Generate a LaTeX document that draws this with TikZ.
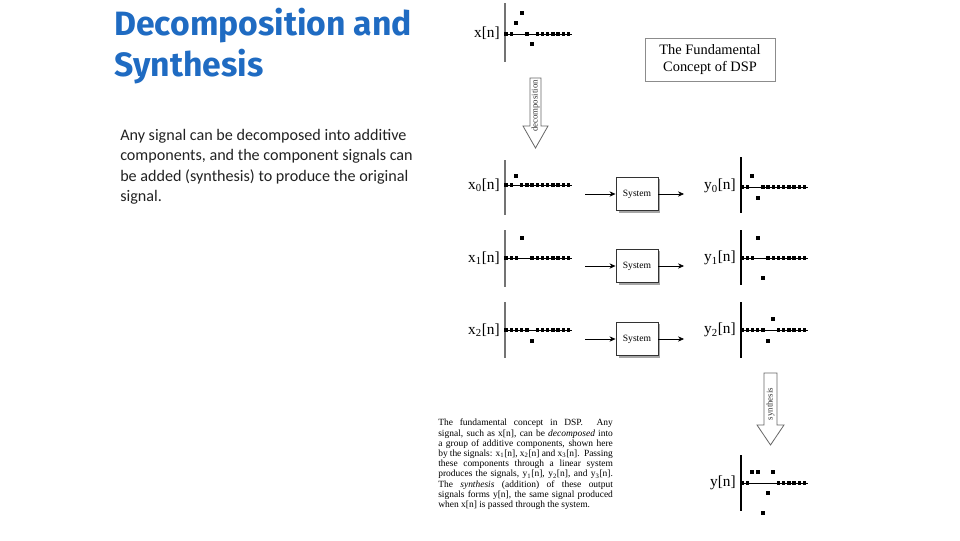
\documentclass[tikz,border=0pt]{standalone}
\usepackage{fontspec}
\setmainfont{Liberation Serif}
\newfontfamily\titlefont{Fira Sans}
\newfontfamily\bodyfont{Carlito}
\usetikzlibrary{arrows.meta}
\definecolor{titleblue}{HTML}{1F6BC2}
\definecolor{bodygray}{HTML}{222222}
\tikzset{
  axisx/.style={draw=black!55,line width=1.4pt},
  axisy/.style={draw=black,line width=0.9pt},
  hline/.style={draw=black,line width=0.5pt},
  lbl/.style={anchor=east,inner sep=0pt,font=\fontsize{11.5}{12}\selectfont},
  sysbox/.style={draw=black!80,fill=white,line width=0.7pt,minimum width=31.5pt,minimum height=24.75pt,inner sep=0pt,font=\fontsize{7.2}{8}\selectfont},
  conn/.style={draw=black,line width=0.5pt,-{Stealth[length=4.5pt,width=4pt]}},
  hollow/.style={draw=black!60,line width=0.6pt,fill=white},
}
\newcommand\sigplot[7]{%
  \draw[#5] (#1,#3) -- (#1,#4);
  \draw[hline] (#1,#2) -- ++(67,0);
  \foreach \k in {#6} {\fill ({#1+1+5.2*\k-1.7},{#2-1.7}) rectangle ++(3.4,3.4);}
  \foreach \k/\v in {#7} {\fill ({#1+1+5.2*\k-2},{#2-\v-2}) rectangle ++(4,4);}
}
\newcommand\capline[1]{\makebox[131pt][s]{#1}\par}
\begin{document}
\begin{tikzpicture}[x=0.75pt,y=-0.75pt]
\useasboundingbox (0,0) rectangle (960,540);
\fill[white] (0,0) rectangle (960,540);

% title
\node[anchor=north west,inner sep=0pt,align=left,text=titleblue,
  font=\titlefont\bfseries\fontsize{25.3}{31}\selectfont] (title) at (114,8)
  {Decomposition and\\Synthesis};

% body text
\node[anchor=north west,inner sep=0pt,align=left,text=bodygray,
  font=\bodyfont\fontsize{12.1}{15.3}\selectfont] (body) at (120,129)
  {Any signal can be decomposed into additive\\components, and the component signals can\\be added (synthesis) to produce the original\\signal.};

% fundamental concept box
\node[draw=black!45,line width=0.6pt,minimum width=97.5pt,minimum height=32.25pt,
  inner sep=0pt,align=center,font=\fontsize{10.8}{13}\selectfont] (fc) at (710,59.5)
  {The Fundamental\\Concept of DSP};

% signals
\sigplot{505}{34}{3}{62}{axisx}{0,1,4,6,7,8,9,10,11,12}{2/11,3/21,5/-10}
\node[lbl] (lx) at (500,33) {x[n]};

\sigplot{505}{185}{160}{215}{axisx}{0,1,3,4,5,6,7,8,9,10,11,12}{2/9}
\node[lbl] (lx0) at (500,185) {x\textsubscript{0}[n]};
\sigplot{505}{258}{230}{287}{axisx}{0,1,2,5,6,7,8,9,10,11,12}{3/20}
\node[lbl] (lx1) at (500,258) {x\textsubscript{1}[n]};
\sigplot{505}{330}{302}{358}{axisx}{0,1,2,3,4,6,7,8,9,10,11,12}{5/-11}
\node[lbl] (lx2) at (500,330) {x\textsubscript{2}[n]};

\sigplot{741}{187}{157}{213}{axisy}{0,1,4,5,6,7,8,9,10,11,12}{2/11,3/-11}
\node[lbl] (ly0) at (736,186) {y\textsubscript{0}[n]};
\sigplot{741}{258}{230}{285}{axisy}{0,1,2,5,6,7,8,9,10,11,12}{3/20,4/-20}
\node[lbl] (ly1) at (736,258) {y\textsubscript{1}[n]};
\sigplot{741}{330}{302}{358}{axisy}{0,1,2,3,4,7,8,9,10,11,12}{5/-11,6/11}
\node[lbl] (ly2) at (736,330) {y\textsubscript{2}[n]};
\sigplot{741}{483}{455}{511}{axisy}{0,1,7,8,9,10,11,12}{2/11,3/11,4/-30,5/-10,6/11}
\node[lbl] (ly) at (736,483) {y[n]};

% systems
\foreach \r/\yy in {0/194,1/266,2/339}{
  \fill[black!35] (618.5,{\yy-15}) rectangle (660,{\yy+18.5});
  \node[sysbox] (sys\r) at (637,\yy) {System};
  \coordinate (in\r) at (585,\yy);
  \coordinate (out\r) at (684,\yy);
  \draw[conn] (in\r) -- (sys\r.west);
  \draw[conn] (sys\r.east) -- (out\r);
}

% decomposition arrow
\draw[hollow] (530,78) -- (541,78) -- (541,126) -- (548,126) -- (535.5,148) -- (523,126) -- (530,126) -- cycle;
\node[rotate=90,inner sep=0pt,font=\fontsize{6.6}{7}\selectfont,text=black!80] (dec) at (535.5,106) {decomposition};

% synthesis arrow
\draw[hollow] (764,373) -- (777,373) -- (777,425) -- (784,425) -- (770.5,445) -- (757,425) -- (764,425) -- cycle;
\node[rotate=90,inner sep=0pt,font=\fontsize{6.6}{7}\selectfont,text=black!80] (syn) at (770.5,404) {synthesis};

% caption
\node[anchor=north west,inner sep=0pt] (cap) at (438,419) {\parbox{131pt}{\fontsize{7.1}{7.65}\selectfont\parindent=0pt\parskip=0pt
\capline{The fundamental concept in DSP.\ \ Any}
\capline{signal, such as x[n], can be \textit{decomposed} into}
\capline{a group of additive components, shown here}
\capline{by the signals: x\textsubscript{1}[n], x\textsubscript{2}[n] and x\textsubscript{3}[n].\ \ Passing}
\capline{these components through a linear system}
\capline{produces the signals, y\textsubscript{1}[n], y\textsubscript{2}[n], and y\textsubscript{3}[n].}
\capline{The \textit{synthesis} (addition) of these output}
\capline{signals forms y[n], the same signal produced}
\makebox[131pt][l]{when x[n] is passed through the system.}}};
\end{tikzpicture}
\end{document}
